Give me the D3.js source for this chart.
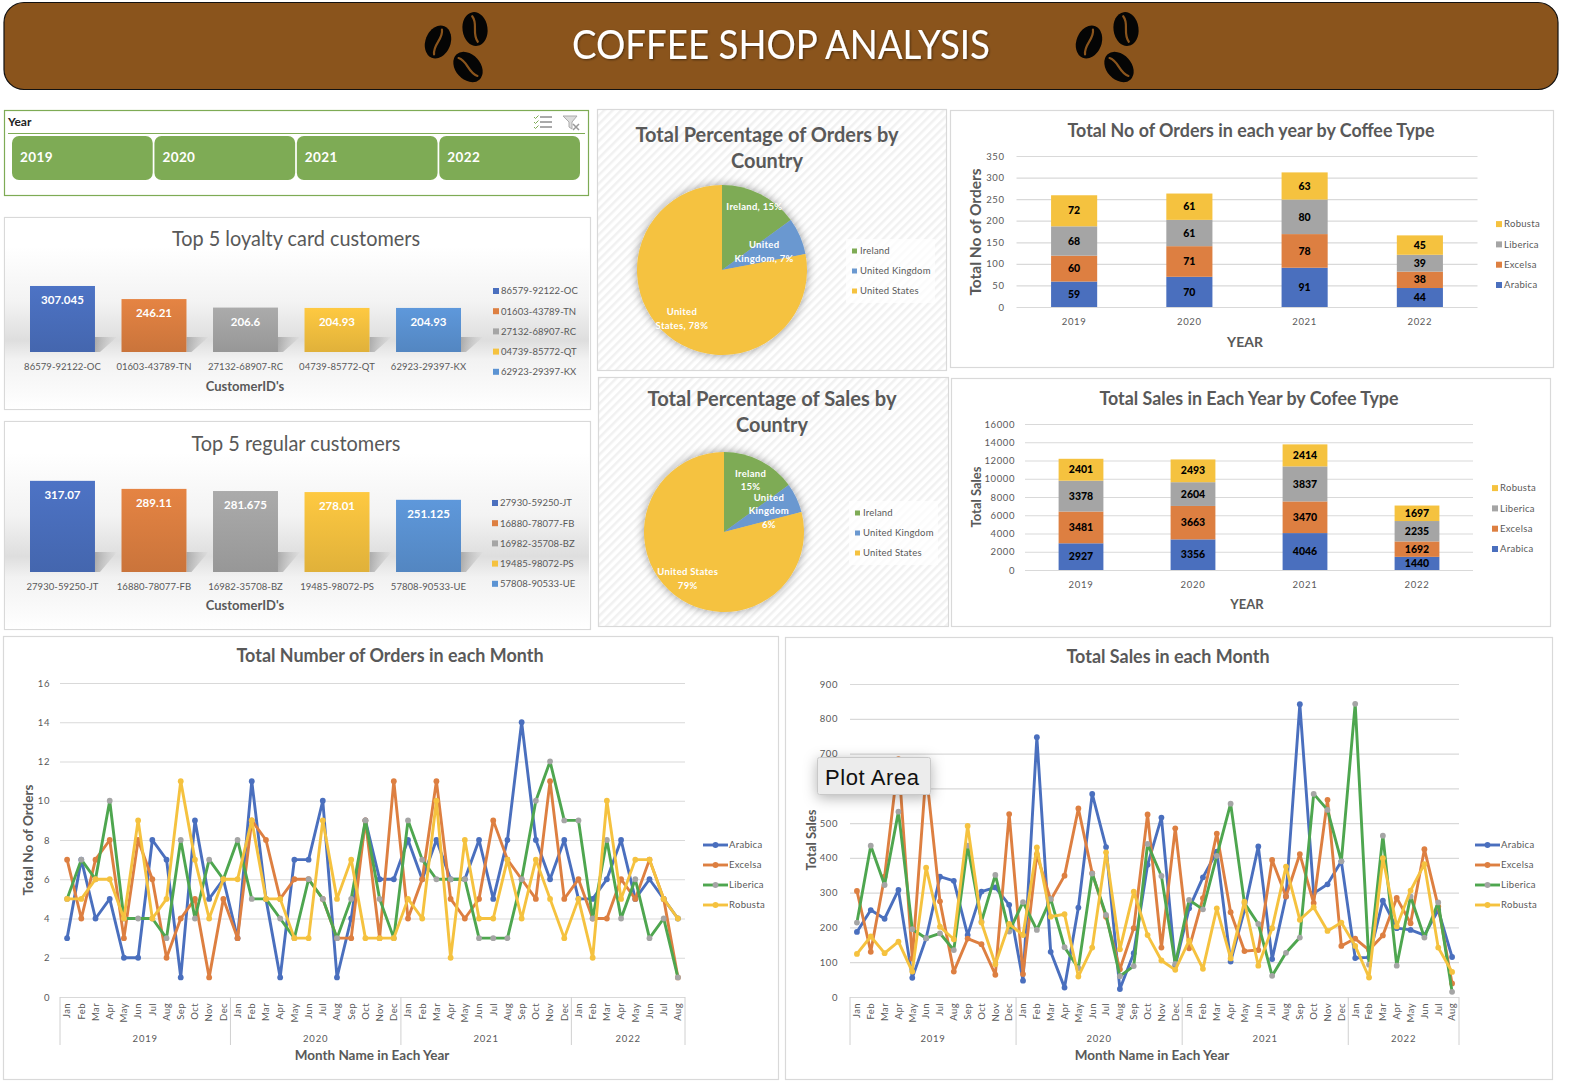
<!DOCTYPE html>
<meta charset="utf-8">
<style>
  body { margin: 0; background: #fff; }
  text { font-family: Lato, "Open Sans", sans-serif; }
</style>

<!-- Load d3.js -->
<script src="https://d3js.org/d3.v7.min.js"></script>

<div id="my_dataviz"></div>

<script>

// ---- data ----
const years = ["2019", "2020", "2021", "2022"];
const coffeeTypes = ["Arabica", "Excelsa", "Liberica", "Robusta"];
const yearMonthCounts = [12, 12, 12, 8];
const monthNames = ["Jan","Feb","Mar","Apr","May","Jun","Jul","Aug","Sep","Oct","Nov","Dec"];

const loyaltyIds = ["86579-92122-OC", "01603-43789-TN", "27132-68907-RC", "04739-85772-QT", "62923-29397-KX"];
const loyaltyValues = [307.045, 246.21, 206.6, 204.93, 204.93];
const regularIds = ["27930-59250-JT", "16880-78077-FB", "16982-35708-BZ", "19485-98072-PS", "57808-90533-UE"];
const regularValues = [317.07, 289.11, 281.675, 278.01, 251.125];

const countries = ["Ireland", "United Kingdom", "United States"];
const orderShare = [15, 7, 78];
const salesShare = [15, 6, 79];

const yearOrdersArabica = [59, 70, 91, 44];
const yearOrdersExcelsa = [60, 71, 78, 38];
const yearOrdersLiberica = [68, 61, 80, 39];
const yearOrdersRobusta = [72, 61, 63, 45];

const yearSalesArabica = [2927, 3356, 4046, 1440];
const yearSalesExcelsa = [3481, 3663, 3470, 1692];
const yearSalesLiberica = [3378, 2604, 3837, 2235];
const yearSalesRobusta = [2401, 2493, 2414, 1697];

const monthOrdersArabica = [3,7,4,5,2,2,8,7,1,9,5,6, 3,11,5,1,7,7,10,1,4,9,6,6, 8,6,8,6,6,8,5,8,14,8,6,8, 5,5,6,8,5,6,5,4];
const monthOrdersExcelsa = [7,4,7,8,3,8,6,2,4,5,1,5, 3,9,8,5,6,6,5,3,3,9,3,11, 4,6,11,5,4,5,9,7,6,5,11,5, 6,4,4,6,5,7,5,1];
const monthOrdersLiberica = [5,7,6,10,4,4,4,3,8,4,7,6, 8,5,5,4,3,6,5,3,5,9,5,3, 9,7,6,6,6,3,3,3,6,10,12,9, 9,4,8,4,6,3,4,1];
const monthOrdersRobusta = [5,5,6,6,4,9,4,5,11,7,4,6, 6,9,5,5,3,3,9,5,7,3,3,3, 5,4,10,2,8,4,4,7,4,7,5,3, 5,2,10,5,7,7,5,4];

const monthSalesArabica = [187,250,225,308,55,169,346,334,178,303,315,265, 47,747,130,27,257,584,431,23,126,380,516,90, 255,344,418,102,250,433,109,289,842,298,324,390, 112,114,277,198,193,178,250,115];
const monthSalesExcelsa = [305,130,346,684,110,648,275,73,168,152,64,526, 66,410,279,349,542,356,231,80,198,525,142,485, 140,284,470,244,132,135,394,289,411,270,567,147, 168,135,177,285,212,425,260,39];
const monthSalesLiberica = [214,435,322,533,195,169,183,135,435,217,351,188, 273,193,282,143,83,355,236,60,89,440,348,95, 279,252,406,556,270,210,61,127,171,584,538,390, 843,93,464,90,289,171,272,15];
const monthSalesRobusta = [124,174,126,159,73,372,202,166,492,214,94,210, 178,430,231,238,59,142,416,137,303,178,105,78, 162,81,255,111,274,90,198,375,222,258,190,214, 147,56,399,203,306,382,142,72];

// colours
const typeColors = ["#4a6fbe", "#dd7f41", "#a5a5a5", "#f5c23f"];
const lineColors = ["#4a6fbe", "#dd7f41", "#4ea64f", "#f5c23f"];
const markerColors = ["#4a6fbe", "#dd7f41", "#a5a5a5", "#f5c23f"];
const barColors = ["#4a6fbe", "#dd7f41", "#a5a5a5", "#f5c23f", "#5b93d3"];
const pieColors = ["#7eab55", "#6a98d0", "#f5c23f"];
const grey = "#595959";

const svg = d3.select("#my_dataviz")
  .append("svg")
    .attr("width", 1570)
    .attr("height", 1086)
    .style("display", "block");
const defs = svg.append("defs");

// small helper so the label styling stays in one place
function label(g, x, y, txt, size, opts = {}) {
  const t = g.append("text")
    .attr("x", x)
    .attr("y", y)
    .attr("dy", "0.35em")
    .attr("text-anchor", opts.anchor || "middle")
    .attr("font-size", size)
    .attr("font-weight", opts.weight || 400)
    .attr("fill", opts.fill || grey)
    .attr("letter-spacing", opts.spacing || 0)
    .text(txt);
  // the original font is narrower than Lato, so squeeze the big titles to width
  if (opts.width) {
    t.attr("textLength", opts.width).attr("lengthAdjust", "spacingAndGlyphs");
  }
  return t;
}

function card(x0, y0, x1, y1, fill) {
  return svg.append("rect")
    .attr("x", x0 + 0.5).attr("y", y0 + 0.5)
    .attr("width", x1 - x0).attr("height", y1 - y0)
    .attr("fill", fill || "#fff")
    .attr("stroke", "#d9d9d9")
    .attr("stroke-width", 1.2);
}

// ---- header ----
svg.append("rect")
  .attr("x", 4).attr("y", 2.5)
  .attr("width", 1554).attr("height", 87)
  .attr("rx", 20)
  .attr("fill", "#8a541c")
  .attr("stroke", "#111")
  .attr("stroke-width", 1.2);

defs.append("filter").attr("id", "titleShadow")
  .append("feDropShadow")
    .attr("dx", 1).attr("dy", 1).attr("stdDeviation", 1)
    .attr("flood-color", "#000").attr("flood-opacity", 0.45);

label(svg, 781, 45, "COFFEE SHOP ANALYSIS", 40, {fill: "#fff", width: 418})
  .attr("filter", "url(#titleShadow)");

function bean(cx, cy, angle) {
  const g = svg.append("g").attr("transform", `translate(${cx},${cy}) rotate(${angle})`);
  g.append("ellipse").attr("rx", 12.5).attr("ry", 17).attr("fill", "#050505");
  g.append("path")
    .attr("d", "M-1,-13 C4,-5 -4,4 1,13")
    .attr("fill", "none")
    .attr("stroke", "#8a541c")
    .attr("stroke-width", 2.2)
    .attr("stroke-linecap", "round");
}
[0, 651].forEach(dx => {
  bean(438 + dx, 42, 22);
  bean(475 + dx, 29, -8);
  bean(468 + dx, 67, -42);
});

// ---- year slicer ----
svg.append("rect")
  .attr("x", 4.5).attr("y", 110.5)
  .attr("width", 584).attr("height", 85)
  .attr("fill", "#fff")
  .attr("stroke", "#7eab55")
  .attr("stroke-width", 1.2);
svg.append("line")
  .attr("x1", 8).attr("x2", 585)
  .attr("y1", 133.5).attr("y2", 133.5)
  .attr("stroke", "#7eab55");
label(svg, 8, 122, "Year", 12, {anchor: "start", weight: 700, fill: "#222"});

const slicerX = d3.scaleBand().domain(years).range([12, 580]).paddingInner(0.012);
svg.selectAll(".slicerBtn")
  .data(years)
  .join("rect")
    .attr("class", "slicerBtn")
    .attr("x", d => slicerX(d))
    .attr("y", 136)
    .attr("width", slicerX.bandwidth())
    .attr("height", 44)
    .attr("rx", 7)
    .attr("fill", "#7eab55");
years.forEach(d => {
  label(svg, slicerX(d) + 8, 157, d, 13.5, {anchor: "start", fill: "#fff", weight: 700, spacing: 0.4});
});

// the two little slicer icons
[117, 122, 127].forEach(y => {
  svg.append("line").attr("x1", 540).attr("x2", 552).attr("y1", y).attr("y2", y).attr("stroke", "#555");
  svg.append("path")
    .attr("d", `M534,${y} l1.5,1.5 l3,-3`)
    .attr("fill", "none").attr("stroke", "#7eab55");
});
svg.append("path")
  .attr("d", "M563,116 h14 l-5,6 v7 l-3,-2 v-5 z")
  .attr("fill", "#dcdcdc").attr("stroke", "#aaa");
svg.append("path")
  .attr("d", "M573,124 l6,6 M579,124 l-6,6")
  .attr("stroke", "#999").attr("stroke-width", 1.5);

// ---- top 5 customers (the two shaded cards) ----
function shadedGradient(id, darkAt) {
  const grad = defs.append("linearGradient")
    .attr("id", id).attr("x1", 0).attr("x2", 0).attr("y1", 0).attr("y2", 1);
  [[0, "#ffffff"], [0.15, "#ffffff"], [darkAt - 0.2, "#f3f3f3"], [darkAt, "#dedede"],
   [darkAt + 0.1, "#f2f2f2"], [1, "#ffffff"]].forEach(s => {
    grad.append("stop").attr("offset", s[0]).attr("stop-color", s[1]);
  });
}
shadedGradient("cardShade", 0.64);
shadedGradient("cardShade2", 0.65);

// bars fade a little darker towards the baseline
barColors.forEach((c, i) => {
  const grad = defs.append("linearGradient")
    .attr("id", "barFill" + i).attr("x1", 0).attr("x2", 0).attr("y1", 0).attr("y2", 1);
  grad.append("stop").attr("offset", 0).attr("stop-color", d3.color(c).brighter(0.1));
  grad.append("stop").attr("offset", 1).attr("stop-color", d3.color(c).darker(0.25));
});
const shadowGrad = defs.append("linearGradient").attr("id", "barShadow");
shadowGrad.append("stop").attr("offset", 0).attr("stop-color", "#888").attr("stop-opacity", 0.6);
shadowGrad.append("stop").attr("offset", 1).attr("stop-color", "#aaa").attr("stop-opacity", 0.05);

function customerChart(o) {
  card(4, o.top, 590, o.bottom, "#fff");
  svg.append("rect")
    .attr("x", 5).attr("y", o.top + 1)
    .attr("width", 584).attr("height", o.bottom - o.top - 1)
    .attr("fill", `url(#${o.shade})`);

  label(svg, 296, o.titleY, o.title, 20.5, {width: o.titleW});

  const x = d3.scaleBand().domain(o.ids).range([30, 461]).paddingInner(0.29).paddingOuter(0);
  const y = d3.scaleLinear().domain([0, o.maxValue]).range([o.base, o.plotTop]);

  // shadows first, then bars
  svg.selectAll(".sh" + o.shade)
    .data(o.ids)
    .join("path")
      .attr("class", "sh" + o.shade)
      .attr("d", d => {
        const r = x(d) + x.bandwidth();
        return `M${r},${o.base} V${o.base - o.shadowH} H${r + 22} L${r + 5},${o.base} Z`;
      })
      .attr("fill", "url(#barShadow)");

  svg.selectAll(".bar" + o.shade)
    .data(o.ids)
    .join("rect")
      .attr("class", "bar" + o.shade)
      .attr("x", d => x(d))
      .attr("y", (d, i) => y(o.values[i]))
      .attr("width", x.bandwidth())
      .attr("height", (d, i) => o.base - y(o.values[i]))
      .attr("fill", (d, i) => `url(#barFill${i})`);

  o.ids.forEach((d, i) => {
    label(svg, x(d) + x.bandwidth() / 2, y(o.values[i]) + 14, o.values[i], 11.5, {fill: "#fff", weight: 700});
    label(svg, x(d) + x.bandwidth() / 2, o.base + 14.5, d, 9.5, {spacing: 0.05});
    const ly = o.legendY + i * 20.2;
    svg.append("rect")
      .attr("x", o.legendX).attr("y", ly - 3)
      .attr("width", 6).attr("height", 6)
      .attr("fill", barColors[i]);
    label(svg, o.legendX + 8, ly, d, 9.5, {anchor: "start", spacing: 0.05});
  });

  label(svg, 245, o.axisY, "CustomerID's", 13, {weight: 700});
}

customerChart({
  top: 217, bottom: 409, title: "Top 5 loyalty card customers", titleY: 238.5, titleW: 248,
  ids: loyaltyIds, values: loyaltyValues, maxValue: 310, base: 352, plotTop: 286 - 0.65,
  shade: "cardShade", shadowH: 15, legendX: 493, legendY: 291, axisY: 386.5
});
customerChart({
  top: 421, bottom: 629, title: "Top 5 regular customers", titleY: 443.5, titleW: 209,
  ids: regularIds, values: regularValues, maxValue: 320, base: 572, plotTop: 480,
  shade: "cardShade2", shadowH: 20, legendX: 492, legendY: 503, axisY: 605.5
});

// ---- pies ----
const hatch = defs.append("pattern")
  .attr("id", "hatch")
  .attr("width", 6).attr("height", 6)
  .attr("patternUnits", "userSpaceOnUse")
  .attr("patternTransform", "rotate(-45)");
hatch.append("rect").attr("width", 6).attr("height", 6).attr("fill", "#fff");
hatch.append("rect").attr("width", 6).attr("height", 2.5).attr("fill", "#f1f1f1");

defs.append("filter").attr("id", "pieShadow")
  .attr("x", "-20%").attr("y", "-20%").attr("width", "140%").attr("height", "140%")
  .append("feDropShadow")
    .attr("dx", 0).attr("dy", 0).attr("stdDeviation", 5)
    .attr("flood-color", "#000").attr("flood-opacity", 0.4);

function pieChart(o) {
  card(o.x0, o.y0, o.x1, o.y1, "url(#hatch)");
  o.titleLines.forEach((t, i) => {
    label(svg, o.titleX, o.titleY + i * 26, t, 21.5, {weight: 700, width: o.titleW[i]});
  });

  const pie = d3.pie().sort(null)(o.values);
  const arc = d3.arc().innerRadius(0).outerRadius(o.r);
  const g = svg.append("g").attr("transform", `translate(${o.cx},${o.cy})`);
  g.append("g").attr("filter", "url(#pieShadow)")
    .selectAll("path")
    .data(pie)
    .join("path")
      .attr("d", arc)
      .attr("fill", (d, i) => pieColors[i]);

  // labels sit on the middle angle of each slice, at a per-slice distance
  pie.forEach((d, i) => {
    const a = (d.startAngle + d.endAngle) / 2;
    const dist = o.r * o.labelDist[i];
    const lines = o.labels[i];
    lines.forEach((t, k) => {
      label(g, Math.sin(a) * dist, -Math.cos(a) * dist + (k - (lines.length - 1) / 2) * o.lineH, t, 9.5,
        {fill: "#fff", weight: 700, spacing: 0.3});
    });
  });

  svg.append("rect")
    .attr("x", o.legendX - 6).attr("y", o.legendY - 12)
    .attr("width", 89).attr("height", 64)
    .attr("fill", "#fff").attr("opacity", 0.7);
  countries.forEach((c, i) => {
    const ly = o.legendY + i * 20;
    svg.append("rect")
      .attr("x", o.legendX).attr("y", ly - 2.5)
      .attr("width", 5).attr("height", 5)
      .attr("fill", pieColors[i]);
    label(svg, o.legendX + 8, ly, c, 9.5, {anchor: "start", spacing: 0.2});
  });
}

pieChart({
  x0: 597, y0: 109, x1: 946, y1: 370, titleX: 767, titleY: 134.5,
  titleLines: ["Total Percentage of Orders by", "Country"], titleW: [263, 72],
  values: orderShare, cx: 722, cy: 270, r: 85, labelDist: [0.84, 0.54, 0.74], lineH: 14,
  labels: [["Ireland, 15%"], ["United", "Kingdom, 7%"], ["United", "States, 78%"]],
  legendX: 852, legendY: 251
});
pieChart({
  x0: 598, y0: 377, x1: 948, y1: 626, titleX: 772, titleY: 398.5,
  titleLines: ["Total Percentage of Sales by", "Country"], titleW: [249, 72],
  values: salesShare, cx: 724, cy: 532, r: 80, labelDist: [0.73, 0.62, 0.74], lineH: 13.5,
  labels: [["Ireland", "15%"], ["United", "Kingdom", "6%"], ["United States", "79%"]],
  legendX: 855, legendY: 513
});

// ---- stacked bars by year ----
function stackedChart(o) {
  card(o.x0, o.y0, o.x1, o.y1);
  label(svg, o.titleX, o.titleY, o.title, o.titleSize, {weight: 700, width: o.titleW});

  const table = years.map((yr, i) => {
    const row = {year: yr};
    coffeeTypes.forEach((t, k) => row[t] = o.series[k][i]);
    return row;
  });
  const layers = d3.stack().keys(coffeeTypes)(table);

  const x = d3.scaleBand().domain(years).range([o.left, o.right]).padding(0.6).paddingOuter(0.3);
  const y = d3.scaleLinear().domain([0, o.maxValue]).range([o.base, o.top]);

  const yAxis = svg.append("g")
    .attr("transform", `translate(${o.left},0)`)
    .call(d3.axisLeft(y).tickValues(d3.range(0, o.maxValue + 1, o.step))
      .tickFormat(d3.format("d"))
      .tickSize(-(o.right - o.left)).tickPadding(o.tickPad));
  yAxis.select(".domain").remove();
  yAxis.selectAll("line").attr("stroke", "#d9d9d9").attr("stroke-width", 1.2);
  yAxis.selectAll("text")
    .attr("fill", grey).attr("font-size", 9.5).attr("letter-spacing", 0.6)
    .style("font-family", "Lato");

  const xAxis = svg.append("g")
    .attr("transform", `translate(0,${o.base})`)
    .call(d3.axisBottom(x).tickSize(0).tickPadding(11));
  xAxis.select(".domain").remove();
  xAxis.selectAll("text")
    .attr("fill", grey).attr("font-size", 9.5).attr("letter-spacing", 0.7)
    .style("font-family", "Lato");

  layers.forEach((layer, k) => {
    svg.selectAll(".seg" + o.id + k)
      .data(layer)
      .join("rect")
        .attr("class", "seg" + o.id + k)
        .attr("x", d => x(d.data.year))
        .attr("y", d => y(d[1]))
        .attr("width", x.bandwidth())
        .attr("height", d => y(d[0]) - y(d[1]))
        .attr("fill", typeColors[k]);
    layer.forEach(d => {
      label(svg, x(d.data.year) + x.bandwidth() / 2, y((d[0] + d[1]) / 2), d[1] - d[0], 10.5,
        {fill: "#000", weight: 900});
    });
  });

  label(svg, o.xTitleX, o.xTitleY, "YEAR", o.xTitleSize, {weight: 700});
  label(svg, 0, 0, o.yTitle, o.yTitleSize, {weight: 700})
    .attr("transform", `translate(${o.yTitleX},${o.yTitleY}) rotate(-90)`);

  coffeeTypes.forEach((t, i) => {
    const ly = o.legendY - i * 20.3;
    svg.append("rect")
      .attr("x", o.legendX).attr("y", ly - 3)
      .attr("width", 6).attr("height", 6)
      .attr("fill", typeColors[i]);
    label(svg, o.legendX + 8, ly, t, 9.5, {anchor: "start", spacing: 0.3});
  });
}

stackedChart({
  id: "o", x0: 950, y0: 110, x1: 1553, y1: 367,
  title: "Total No of Orders in each year by Coffee Type", titleX: 1251, titleY: 130, titleSize: 19.5, titleW: 367,
  series: [yearOrdersArabica, yearOrdersExcelsa, yearOrdersLiberica, yearOrdersRobusta],
  left: 1016.5, right: 1477.5, base: 307, top: 156, maxValue: 350, step: 50, tickPad: 12,
  xTitleX: 1245, xTitleY: 342.5, xTitleSize: 14,
  yTitle: "Total No of Orders", yTitleX: 976, yTitleY: 232, yTitleSize: 15.5,
  legendX: 1496, legendY: 285
});
stackedChart({
  id: "s", x0: 951, y0: 378, x1: 1550, y1: 626,
  title: "Total Sales in Each Year by Cofee Type", titleX: 1249, titleY: 398, titleSize: 19.5, titleW: 299,
  series: [yearSalesArabica, yearSalesExcelsa, yearSalesLiberica, yearSalesRobusta],
  left: 1025, right: 1473, base: 570, top: 424, maxValue: 16000, step: 2000, tickPad: 10,
  xTitleX: 1247, xTitleY: 604, xTitleSize: 13,
  yTitle: "Total Sales", yTitleX: 976, yTitleY: 497, yTitleSize: 13,
  legendX: 1492, legendY: 549
});

// ---- monthly lines ----
const monthKeys = [];
const yearGroups = [];
yearMonthCounts.forEach((n, yi) => {
  yearGroups.push({year: years[yi], first: monthKeys.length, last: monthKeys.length + n - 1});
  d3.range(n).forEach(m => monthKeys.push(years[yi] + "-" + monthNames[m]));
});

function monthlyChart(o) {
  card(o.x0, o.y0, o.x1, o.y1);
  label(svg, o.titleX, o.titleY, o.title, 18.5, {weight: 700, width: o.titleW});

  const x = d3.scaleBand().domain(monthKeys).range([o.left, o.right]);
  const y = d3.scaleLinear().domain([0, o.maxValue]).range([o.base, o.top]);

  // a tick label the tooltip covers in the screenshot is left out via coveredTick
  const yAxis = svg.append("g")
    .attr("transform", `translate(${o.left},0)`)
    .call(d3.axisLeft(y).tickValues(d3.range(0, o.maxValue + 1, o.step))
      .tickFormat(d => d === o.coveredTick ? "" : d)
      .tickSize(-(o.right - o.left)).tickPadding(o.tickPad));
  yAxis.select(".domain").remove();
  yAxis.selectAll("line").attr("stroke", "#d9d9d9").attr("stroke-width", 1.2);
  yAxis.selectAll("text")
    .attr("fill", grey).attr("font-size", 9.5).attr("letter-spacing", 0.6)
    .style("font-family", "Lato");

  const xAxis = svg.append("g")
    .attr("transform", `translate(0,${o.base})`)
    .call(d3.axisBottom(x).tickSize(0).tickFormat(d => d.split("-")[1]));
  xAxis.select(".domain").remove();
  xAxis.selectAll("text")
    .attr("transform", "rotate(-90)")
    .attr("x", -6)
    .attr("y", 0)
    .attr("dy", "0.35em")
    .attr("text-anchor", "end")
    .attr("fill", grey).attr("font-size", 9.5).attr("letter-spacing", 0.4)
    .style("font-family", "Lato");

  // year brackets under the month names
  yearGroups.forEach(g => {
    const a = x(monthKeys[g.first]);
    const b = x(monthKeys[g.last]) + x.bandwidth();
    label(svg, (a + b) / 2, o.base + 42, g.year, 9.5, {spacing: 0.8});
    svg.append("line")
      .attr("x1", a).attr("x2", a)
      .attr("y1", o.base).attr("y2", o.base + 48)
      .attr("stroke", "#d0d0d0");
    if (g.last === monthKeys.length - 1) {
      svg.append("line")
        .attr("x1", b).attr("x2", b)
        .attr("y1", o.base).attr("y2", o.base + 48)
        .attr("stroke", "#d0d0d0");
    }
  });

  const line = d3.line()
    .x((d, i) => x(monthKeys[i]) + x.bandwidth() / 2)
    .y(d => y(d));

  o.series.forEach((values, k) => {
    svg.append("path")
      .datum(values)
      .attr("d", line)
      .attr("fill", "none")
      .attr("stroke", lineColors[k])
      .attr("stroke-width", 2.9)
      .attr("stroke-linejoin", "round");
    svg.selectAll(".pt" + o.id + k)
      .data(values)
      .join("circle")
        .attr("class", "pt" + o.id + k)
        .attr("cx", (d, i) => x(monthKeys[i]) + x.bandwidth() / 2)
        .attr("cy", d => y(d))
        .attr("r", 2.9)
        .attr("fill", markerColors[k]);
  });

  label(svg, o.xTitleX, 1055.5, "Month Name in Each Year", 13.5, {weight: 700});
  label(svg, 0, 0, o.yTitle, o.yTitleSize, {weight: 700})
    .attr("transform", `translate(${o.yTitleX},840) rotate(-90)`);

  coffeeTypes.forEach((t, i) => {
    const ly = 845 + i * 20;
    svg.append("line")
      .attr("x1", o.legendX).attr("x2", o.legendX + 25)
      .attr("y1", ly).attr("y2", ly)
      .attr("stroke", lineColors[i]).attr("stroke-width", 2.9);
    svg.append("circle")
      .attr("cx", o.legendX + 12.5).attr("cy", ly).attr("r", 2.9)
      .attr("fill", markerColors[i]);
    label(svg, o.legendX + 26, ly, t, 9.5, {anchor: "start", spacing: 0.3});
  });
}

monthlyChart({
  id: "mo", x0: 3, y0: 636, x1: 778, y1: 1079,
  title: "Total Number of Orders in each Month", titleX: 390, titleY: 656, titleW: 307,
  series: [monthOrdersArabica, monthOrdersExcelsa, monthOrdersLiberica, monthOrdersRobusta],
  left: 60, right: 685, base: 997, top: 683, maxValue: 16, step: 2, tickPad: 10,
  xTitleX: 372, yTitle: "Total No of Orders", yTitleX: 28, yTitleSize: 13.5, legendX: 703
});
monthlyChart({
  id: "ms", x0: 785, y0: 637, x1: 1552, y1: 1079,
  title: "Total Sales in each Month", titleX: 1168, titleY: 657, titleW: 203,
  series: [monthSalesArabica, monthSalesExcelsa, monthSalesLiberica, monthSalesRobusta],
  left: 850, right: 1459, base: 997, top: 684, maxValue: 900, step: 100, tickPad: 12, coveredTick: 600,
  xTitleX: 1152, yTitle: "Total Sales", yTitleX: 811, yTitleSize: 13, legendX: 1475
});

// ---- the hover tooltip caught in the screenshot ----
defs.append("filter").attr("id", "tipShadow")
  .attr("x", "-30%").attr("y", "-60%").attr("width", "160%").attr("height", "240%")
  .append("feDropShadow")
    .attr("dx", 0).attr("dy", 3).attr("stdDeviation", 7)
    .attr("flood-color", "#000").attr("flood-opacity", 0.3);
svg.append("rect")
  .attr("x", 817.5).attr("y", 757.5)
  .attr("width", 113).attr("height", 37)
  .attr("rx", 2)
  .attr("fill", "#ececec")
  .attr("stroke", "#c9c9c9")
  .attr("filter", "url(#tipShadow)");
svg.append("text")
  .attr("x", 825).attr("y", 777)
  .attr("dy", "0.35em")
  .attr("font-size", 22)
  .attr("fill", "#111")
  .attr("letter-spacing", 0.6)
  .style("font-family", "'Liberation Sans', sans-serif")
  .text("Plot Area");

</script>
